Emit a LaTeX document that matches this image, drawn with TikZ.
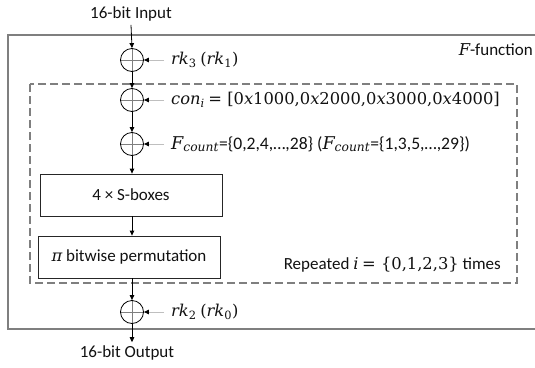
\documentclass[tikz,border=0pt]{standalone}
\usepackage{fontspec}
\setmainfont{Carlito}
\newfontfamily\mfont{DejaVu Serif}
\usetikzlibrary{arrows.meta}
\definecolor{framegray}{HTML}{7F7F7F}
\definecolor{lightline}{HTML}{BFBFBF}
\definecolor{txt}{HTML}{111111}
\newcommand\msz{\fontsize{16.3}{19}\selectfont}
\newcommand\fsz{\fontsize{17.6}{20}\selectfont}
\newcommand\mvar[1]{{\mfont\itshape #1}}
\newcommand\mnum[1]{{\mfont #1}}
\newcommand\msub[1]{\textsubscript{\mfont\itshape #1}}
\newcommand\nsub[1]{\textsubscript{\mfont #1}}
\tikzset{
  every node/.style={text=txt, font=\fontsize{17}{20}\selectfont},
  mathsz/.style={font=\msz},
  flow/.style={-{Triangle[length=5pt,width=4.5pt]}, draw=black, line width=0.8pt},
  side/.style={-{Triangle[length=5pt,width=4.5pt,color=black]}, draw=lightline, line width=0.8pt},
  xorop/.style={circle, draw=black, line width=0.8pt, minimum size=23pt, inner sep=0pt,
    path picture={\draw[framegray, line width=0.6pt]
      (path picture bounding box.west) -- (path picture bounding box.east)
      (path picture bounding box.north) -- (path picture bounding box.south);}},
  opbox/.style={draw=black!85, line width=0.8pt, minimum width=182pt, minimum height=42pt, inner sep=0pt},
  lab/.style={anchor=west, inner xsep=7pt, inner ysep=2pt},
}
\begin{document}
\begin{tikzpicture}[x=1pt,y=-1pt]
\useasboundingbox (0,0) rectangle (535,367);
% frames
\draw[framegray, line width=1.3pt] (535,35) -- (8,35) -- (8,329) -- (535,329);
\draw[framegray, line width=1.1pt, dash pattern=on 8pt off 4pt] (30,84) rectangle (517,283);
% nodes
\node (in) at (131,14) {16-bit Input};
\node[xorop] (x1) at (132,60) {};
\node[xorop] (x2) at (132,100) {};
\node[xorop] (x3) at (132,144) {};
\node[opbox] (sbox) at (131,195) {4 × S-boxes};
\node[opbox] (perm) at (129,257) {{\msz\mfont\itshape π} bitwise permutation};
\node[xorop] (x4) at (132,312) {};
\node (out) at (127,353) {16-bit Output};
% labels
\node[lab, mathsz] (l1) at (164,60) {\mvar{rk}\nsub{3} \mnum{(}\mvar{rk}\nsub{1}\mnum{)}};
\node[lab, mathsz] (l2) at (164,100) {\mvar{con}\msub{i} \mnum{= [0\mvar{x}1000,0\mvar{x}2000,0\mvar{x}3000,0\mvar{x}4000]}};
\node[lab, font=\fsz] (l3) at (164,144) {{\mvar{F}\msub{count}}=\{0,2,4,…,28\} ({\mvar{F}\msub{count}}=\{1,3,5,…,29\})};
\node[lab, mathsz] (l4) at (164,312) {\mvar{rk}\nsub{2} \mnum{(}\mvar{rk}\nsub{0}\mnum{)}};
\node[anchor=east, inner sep=1pt] (ff) at (534,50) {{\msz\mvar{F}}-function};
\node[anchor=east, inner sep=1pt] (rep) at (502,265) {Repeated {\msz\mvar{i} \mnum{= \{0,1,2,3\}}} times};
% connectors
\draw[flow] (in.south) -- (x1.north);
\draw[flow] (x1.south) -- (x2.north);
\draw[flow] (x2.south) -- (x3.north);
\draw[flow] (x3.south) -- (sbox.north -| x3);
\draw[flow] (sbox.south -| x3) -- (perm.north -| x3);
\draw[flow] (perm.south -| x3) -- (x4.north);
\draw[flow] (x4.south) -- (out.north -| x4);
\draw[side] (l1.west) -- (x1.east);
\draw[side] (l2.west) -- (x2.east);
\draw[side] (l3.west) -- (x3.east);
\draw[side] (l4.west) -- (x4.east);
\end{tikzpicture}
\end{document}
